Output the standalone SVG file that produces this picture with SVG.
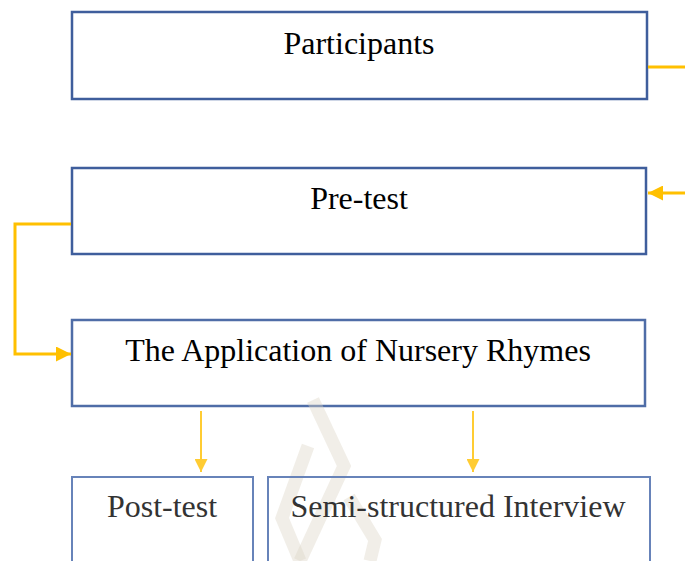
<svg xmlns="http://www.w3.org/2000/svg" width="685" height="561" viewBox="0 0 685 561">
<defs>
<style>
.box{fill:#ffffff;stroke:#3f5e9c;stroke-width:2.5}
.box2{fill:none;stroke:#6783b9;stroke-width:2}
.t{font-family:"Liberation Serif","Times New Roman",serif;font-size:32px;fill:#000;text-anchor:middle}
.t2{fill:#333333}
.c{fill:none;stroke:#ffc000;stroke-width:3}
.c2{fill:none;stroke:#ffcc33;stroke-width:2}
.wm{fill:none;stroke:#dcd4c6;stroke-width:13;stroke-linejoin:miter;opacity:0.4}
</style>
<marker id="ah" viewBox="0 0 10 10" refX="10" refY="5" markerWidth="5" markerHeight="5" markerUnits="strokeWidth" orient="auto">
<path d="M0,0 L10,5 L0,10 z" fill="#ffc000"/>
</marker>
<marker id="ah2" viewBox="0 0 10 10" refX="10" refY="5" markerWidth="6.5" markerHeight="6.5" markerUnits="strokeWidth" orient="auto">
<path d="M0,0 L10,5 L0,10 z" fill="#ffcc33"/>
</marker>
</defs>
<rect width="685" height="561" fill="#ffffff"/>
<g id="participants">
<rect class="box" x="72" y="12" width="575" height="87"/>
<text class="t" x="359" y="54">Participants</text>
</g>
<g id="pretest">
<rect class="box" x="72" y="168" width="574" height="86"/>
<text class="t" x="359" y="209">Pre-test</text>
</g>
<g id="application">
<rect class="box" x="72" y="320" width="573" height="86" style="stroke:#4f6da7"/>
<text class="t" x="358" y="361">The Application of Nursery Rhymes</text>
</g>
<g id="watermark">
<polyline class="wm" points="313,400 344,466 300,561"/>
<polyline class="wm" points="308,446 282,518 300,561"/>
<polyline class="wm" points="349,497 375,540 370,561"/>
</g>
<g id="posttest">
<rect class="box2" x="72" y="477" width="181" height="100"/>
<text class="t t2" x="162" y="517">Post-test</text>
</g>
<g id="interview">
<rect class="box2" x="268" y="477" width="382" height="100"/>
<text class="t t2" x="458" y="517">Semi-structured Interview</text>
</g>
<g id="connectors">
<line class="c" x1="648" y1="67" x2="685" y2="67"/>
<line class="c" x1="685" y1="193" x2="648" y2="193" marker-end="url(#ah)"/>
<polyline class="c" points="71,224 15,224 15,354 71,354" marker-end="url(#ah)"/>
<line class="c2" x1="201" y1="411" x2="201" y2="472" marker-end="url(#ah2)"/>
<line class="c2" x1="473" y1="411" x2="473" y2="472" marker-end="url(#ah2)"/>
</g>
</svg>
